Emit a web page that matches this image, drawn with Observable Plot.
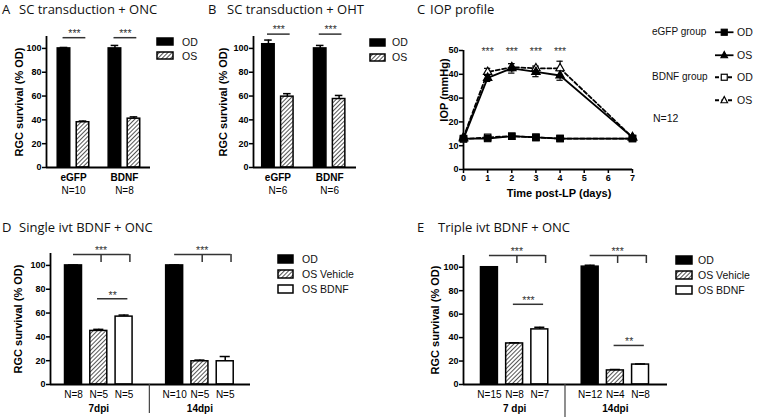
<!DOCTYPE html>
<html><head><meta charset="utf-8">
<script src="https://cdn.jsdelivr.net/npm/d3@7"></script>
<script src="https://cdn.jsdelivr.net/npm/@observablehq/plot@0.6"></script>
<style>
body{margin:0;background:#fff;}
#root{position:relative;width:769px;height:417px;overflow:hidden;font-family:'Liberation Sans',Arial,sans-serif;background:#fff;}
.title{position:absolute;font-family:'Open Sans','Noto Sans',sans-serif;font-size:13px;line-height:14px;color:#111;white-space:nowrap;}
.leg{position:absolute;font-family:'Liberation Sans',Arial,sans-serif;font-size:10.5px;line-height:12px;white-space:nowrap;color:#111;}
.legc{font-size:10px;}
</style></head><body>
<svg width="0" height="0" style="position:absolute"><defs>
<pattern id="hatch" patternUnits="userSpaceOnUse" width="3" height="3" patternTransform="rotate(45)">
<rect width="3" height="3" fill="white"/><line x1="0.5" y1="0" x2="0.5" y2="3" stroke="#555" stroke-width="1"/>
</pattern></defs></svg>
<div id="root"></div>
<script>
// ---------------- DATA ----------------
// Panel A: SC transduction + ONC
const groupsA = ["eGFP", "BDNF"];
const nLabelsA = ["N=10", "N=8"];
const seriesAB = ["OD", "OS"];
const meanA_OD = [100, 100];
const semA_OD = [0.8, 2.5];
const meanA_OS = [38, 41];
const semA_OS = [1, 1.5];
const sigA = ["***", "***"];
// Panel B: SC transduction + OHT
const groupsB = ["eGFP", "BDNF"];
const nLabelsB = ["N=6", "N=6"];
const meanB_OD = [103.5, 100];
const semB_OD = [3.5, 2.5];
const meanB_OS = [59.5, 57.5];
const semB_OS = [2.5, 3];
const sigB = ["***", "***"];
// Panel C: IOP profile
const daysC = [0, 1, 2, 3, 4, 7];
const dayTicksC = [0, 1, 2, 3, 4, 5, 6, 7];
const iopTicksC = [0, 10, 20, 30, 40, 50];
const iop_eGFP_OD = [13, 13, 14, 13.5, 13, 13];
const sem_eGFP_OD = [0.4, 0.4, 0.5, 0.4, 0.4, 0.4];
const iop_eGFP_OS = [13, 38.5, 42.5, 41, 39.5, 13.5];
const sem_eGFP_OS = [0.5, 1.5, 2, 2, 2, 0.5];
const iop_BDNF_OD = [12.8, 13.5, 14, 13.5, 13, 13];
const sem_BDNF_OD = [0.4, 0.4, 0.5, 0.4, 0.4, 0.4];
const iop_BDNF_OS = [13.5, 41, 43, 42.5, 42.5, 13.5];
const sem_BDNF_OS = [0.5, 1.5, 1.5, 1, 3, 0.5];
const sigDaysC = [1, 2, 3, 4];
const sigC = ["***", "***", "***", "***"];
const nLabelC = "N=12";
// Panel D: Single ivt BDNF + ONC
const timesD = ["7dpi", "14dpi"];
const seriesDE = ["OD", "OS Vehicle", "OS BDNF"];
const meanD_OD = [100, 100];
const semD_OD = [0.3, 0.3];
const nD_OD = ["N=8", "N=10"];
const meanD_Veh = [45, 19.5];
const semD_Veh = [1.3, 1];
const nD_Veh = ["N=5", "N=5"];
const meanD_BDNF = [57, 19.5];
const semD_BDNF = [1.3, 4];
const nD_BDNF = ["N=5", "N=5"];
const bracketD = ["***", "***"];
const pairD = ["**", null];
// Panel E: Triple ivt BDNF + ONC
const timesE = ["7 dpi", "14dpi"];
const meanE_OD = [100, 100.5];
const semE_OD = [0.3, 1.2];
const nE_OD = ["N=15", "N=12"];
const meanE_Veh = [35, 12];
const semE_Veh = [0.6, 0.8];
const nE_Veh = ["N=8", "N=4"];
const meanE_BDNF = [47, 17];
const semE_BDNF = [1.8, 0.5];
const nE_BDNF = ["N=7", "N=8"];
const bracketE = ["***", "***"];
const pairE = ["***", "**"];
const survivalTicks = [0, 20, 40, 60, 80, 100];
const yLabelSurv = "RGC survival (% OD)";

// ---------------- LAYOUT HELPERS ----------------
const FONT = "'Liberation Sans', Arial, Helvetica, sans-serif";
const root = document.getElementById("root");
function put(el, left, top) {
  el.style.position = "absolute"; el.style.left = left + "px"; el.style.top = top + "px";
  root.appendChild(el); return el;
}
function title(letter, text, lx, tx, cy) {
  const a = document.createElement("div"); a.className = "title"; a.textContent = letter; put(a, lx, cy - 7);
  const b = document.createElement("div"); b.className = "title"; b.textContent = text; put(b, tx, cy - 7);
}
const svgStyle = {fontFamily: FONT, fontSize: "9px", fontWeight: "bold", color: "black", background: "transparent", overflow: "visible"};

function barPanel(o) {
  const nS = o.series.length;
  const P = (gi, si) => gi * o.groupStep + si;
  const rows = [];
  o.groups.forEach((g, gi) => o.series.forEach((s, si) => rows.push({
    gi, si, pos: P(gi, si), mean: o.means[si][gi], sem: o.sems[si][gi], n: o.barN ? o.barN[si][gi] : null
  })));
  const groupRows = o.groups.map((g, gi) => ({gi, name: g, center: P(gi, (nS - 1) / 2), n: o.groupN ? o.groupN[gi] : null}));
  const x0 = -o.padL, x1 = P(o.groups.length - 1, nS - 1) + o.padR;
  const innerH = o.height - o.marginTop - o.marginBottom;
  const upp = o.yMax / innerH;
  const marks = [];
  o.series.forEach((s, si) => marks.push(Plot.rect(rows.filter(r => r.si === si), {
    x1: r => r.pos - o.halfW, x2: r => r.pos + o.halfW, y1: 0, y2: "mean",
    fill: o.fills[si], stroke: "black", strokeWidth: 1.5
  })));
  marks.push(Plot.ruleX(rows, {x: "pos", y1: "mean", y2: r => r.mean + r.sem, strokeWidth: 1.5}));
  marks.push(Plot.ruleY(rows, {y: r => r.mean + r.sem, x1: r => r.pos - o.capW, x2: r => r.pos + o.capW, strokeWidth: 1.5}));
  marks.push(Plot.ruleY([0], {strokeWidth: 1.8}));
  marks.push(Plot.ruleX([x0], {y1: 0, y2: o.yMax, strokeWidth: 1.8}));
  marks.push(Plot.axisY({ticks: survivalTicks, tickSize: 4, tickPadding: 1, fontSize: 9, strokeWidth: 1.5, label: null}));
  marks.push(Plot.text([yLabelSurv], {text: d => d, frameAnchor: "left", textAnchor: "middle", lineAnchor: "middle", rotate: -90, dx: o.yLabelDx, fontSize: 11}));
  marks.push(Plot.text(groupRows, {x: "center", text: "name", frameAnchor: "bottom", lineAnchor: "middle", dy: o.groupDy, fontSize: 10}));
  if (o.groupN) marks.push(Plot.text(groupRows, {x: "center", text: "n", frameAnchor: "bottom", lineAnchor: "middle", dy: o.nDy, fontSize: 10, fontWeight: "normal"}));
  if (o.barN) marks.push(Plot.text(rows, {x: "pos", text: "n", frameAnchor: "bottom", lineAnchor: "middle", dy: o.nDy, fontSize: 10, fontWeight: "normal"}));
  if (o.separator) marks.push(Plot.ruleX(groupRows.slice(1), {x: d => d.center - o.groupStep / 2, y1: 0, y2: -o.sepPx * upp, stroke: "#444", strokeWidth: 1.2}));
  // pairwise significance lines
  if (o.pairs) {
    const pr = o.pairs.filter(p => p.label);
    marks.push(Plot.ruleY(pr, {y: "level", x1: p => P(p.gi, p.a) - 0.05, x2: p => P(p.gi, p.b) + 0.15, stroke: "#333", strokeWidth: 1.5}));
    marks.push(Plot.text(pr, {x: p => (P(p.gi, p.a) + P(p.gi, p.b) + 0.1) / 2, y: p => p.level + o.sigTextOff, text: "label", fontSize: 10.5, fontWeight: "normal", fill: "#333"}));
  }
  if (o.brackets) {
    const br = o.brackets;
    marks.push(Plot.ruleY(br, {y: "level", x1: b => P(b.gi, 0), x2: b => P(b.gi, 2) + 0.23, stroke: "#333", strokeWidth: 1.5}));
    marks.push(Plot.ruleX(br, {x: b => P(b.gi, 1) + 0.09, y1: b => b.level - o.drop, y2: "level", stroke: "#333", strokeWidth: 1.5}));
    marks.push(Plot.ruleX(br, {x: b => P(b.gi, 2) + 0.23, y1: b => b.level - o.drop, y2: "level", stroke: "#333", strokeWidth: 1.5}));
    marks.push(Plot.text(br, {x: b => P(b.gi, 1) + 0.09, y: b => b.level + o.sigTextOff, text: "label", fontSize: 10.5, fontWeight: "normal", fill: "#333"}));
  }
  const svg = Plot.plot({
    width: o.width, height: o.height,
    marginLeft: o.marginLeft, marginRight: o.marginRight, marginTop: o.marginTop, marginBottom: o.marginBottom,
    x: {domain: [x0, x1], axis: null},
    y: {domain: [0, o.yMax]},
    style: svgStyle,
    marks
  });
  return put(svg, o.left, o.top);
}

function swatchLegend(labels, fills, boxLeft, boxW, boxH, centers, textLeft) {
  labels.forEach((lab, i) => {
    const sw = document.createElement("div");
    sw.innerHTML = `<svg width="${boxW + 2}" height="${boxH + 2}" style="display:block;overflow:visible"><rect x="1" y="1" width="${boxW}" height="${boxH}" fill="${fills[i]}" stroke="black" stroke-width="1.5"/></svg>`;
    put(sw, boxLeft - 1, centers[i] - boxH / 2 - 1);
    const t = document.createElement("div"); t.className = "leg"; t.textContent = lab; put(t, textLeft, centers[i] - 6);
  });
}

// ---------------- PANEL A ----------------
title("A", "SC transduction + ONC", 2, 19, 9);
barPanel({
  groups: groupsA, series: seriesAB, means: [meanA_OD, meanA_OS], sems: [semA_OD, semA_OS],
  fills: ["black", "url(#hatch)"], groupN: nLabelsA,
  groupStep: 2.68, padL: 0.92, padR: 0.87, halfW: 0.33, capW: 0.2,
  width: 160, height: 182, left: 0, top: 20,
  marginLeft: 46, marginRight: 10, marginTop: 16, marginBottom: 35, yMax: 110,
  yLabelDx: -27, groupDy: 10, nDy: 23,
  pairs: sigA.map((l, gi) => ({gi, a: 0, b: 1, label: l, level: 109})), sigTextOff: 3.7
});
swatchLegend(seriesAB, ["black", "url(#hatch)"], 157, 16, 7, [41.5, 55.5], 182);

// ---------------- PANEL B ----------------
title("B", "SC transduction + OHT", 208, 227, 9);
barPanel({
  groups: groupsB, series: seriesAB, means: [meanB_OD, meanB_OS], sems: [semB_OD, semB_OS],
  fills: ["black", "url(#hatch)"], groupN: nLabelsB,
  groupStep: 2.74, padL: 0.79, padR: 0.92, halfW: 0.33, capW: 0.2,
  width: 160, height: 182, left: 207, top: 20,
  marginLeft: 46, marginRight: 11, marginTop: 16, marginBottom: 35, yMax: 110,
  yLabelDx: -30, groupDy: 10, nDy: 23,
  pairs: sigB.map((l, gi) => ({gi, a: 0, b: 1, label: l, level: 112})), sigTextOff: 3.7
});
swatchLegend(seriesAB, ["black", "url(#hatch)"], 370, 15, 7, [42, 57], 392);

// ---------------- PANEL C ----------------
title("C", "IOP profile", 417, 430, 9);
const cRows = (vals, sems) => daysC.map((d, i) => ({day: d, v: vals[i], s: sems[i]}));
const cSeries = [
  {rows: cRows(iop_eGFP_OD, sem_eGFP_OD), dash: null, symbol: "square", fill: "black"},
  {rows: cRows(iop_eGFP_OS, sem_eGFP_OS), dash: null, symbol: "triangle", fill: "black"},
  {rows: cRows(iop_BDNF_OD, sem_BDNF_OD), dash: "4,2.5", symbol: "square", fill: "white"},
  {rows: cRows(iop_BDNF_OS, sem_BDNF_OS), dash: "4,2.5", symbol: "triangle", fill: "white"}
];
const cMarks = [
  Plot.ruleY([0], {strokeWidth: 1.8}),
  Plot.ruleX([0], {y1: 0, y2: 50, strokeWidth: 1.8}),
  Plot.axisY({ticks: iopTicksC, tickSize: 4, tickPadding: 1, fontSize: 9, strokeWidth: 1.5, label: null}),
  Plot.axisX({ticks: dayTicksC, tickFormat: d => String(d), tickSize: 4, tickPadding: 1, fontSize: 9, strokeWidth: 1.5, label: null}),
  Plot.text(["IOP (mmHg)"], {text: d => d, frameAnchor: "left", textAnchor: "middle", lineAnchor: "middle", rotate: -90, dx: -19, dy: -20, fontSize: 11}),
  Plot.text(["Time post-LP (days)"], {text: d => d, frameAnchor: "bottom", lineAnchor: "middle", dy: 24, dx: 11, fontSize: 11}),
  Plot.text(sigDaysC, {x: d => d, y: 49.5, text: (d, i) => sigC[i], fontSize: 10.5, fontWeight: "normal", fill: "#333"})
];
cSeries.forEach(s => cMarks.push(Plot.line(s.rows, {x: "day", y: "v", stroke: "black", strokeWidth: 1.8, strokeDasharray: s.dash || undefined})));
cSeries.forEach(s => {
  cMarks.push(Plot.ruleX(s.rows, {x: "day", y1: d => d.v - d.s, y2: d => d.v + d.s, strokeWidth: 1.2}));
  cMarks.push(Plot.ruleY(s.rows, {y: d => d.v + d.s, x1: d => d.day - 0.13, x2: d => d.day + 0.13, strokeWidth: 1.2}));
  cMarks.push(Plot.ruleY(s.rows, {y: d => d.v - d.s, x1: d => d.day - 0.13, x2: d => d.day + 0.13, strokeWidth: 1.2}));
});
[cSeries[2], cSeries[3], cSeries[0], cSeries[1]].forEach(s => cMarks.push(Plot.dot(s.rows, {
  x: "day", y: "v", symbol: s.symbol, fill: s.fill, stroke: "black", strokeWidth: 1.2, r: s.symbol === "square" ? 3.6 : 3.1
})));
put(Plot.plot({
  width: 220, height: 175, marginLeft: 43, marginRight: 8, marginTop: 20, marginBottom: 36,
  x: {domain: [0, 7], axis: null}, y: {domain: [0, 50]},
  style: svgStyle, marks: cMarks
}), 420, 30);
// C legend
function lineSwatch(dash, symbol, fill) {
  const m = symbol === "square"
    ? `<rect x="6.25" y="3.25" width="6" height="6" fill="${fill}" stroke="black" stroke-width="1.2"/>`
    : `<polygon points="9.25,2.5 12.5,8.75 6,8.75" fill="${fill}" stroke="black" stroke-width="1.2"/>`;
  return `<svg width="19" height="12" style="display:block;overflow:visible"><line x1="0" x2="18.5" y1="6.25" y2="6.25" stroke="black" stroke-width="1.8" ${dash ? `stroke-dasharray="${dash}"` : ""}/>${m}</svg>`;
}
const legC = [
  {group: "eGFP group", label: seriesAB[0], s: cSeries[0], cy: 32},
  {group: null, label: seriesAB[1], s: cSeries[1], cy: 55},
  {group: "BDNF group", label: seriesAB[0], s: cSeries[2], cy: 77},
  {group: null, label: seriesAB[1], s: cSeries[3], cy: 100}
];
legC.forEach(r => {
  if (r.group) { const g = document.createElement("div"); g.className = "leg legc"; g.textContent = r.group; put(g, 652, r.cy - 6); }
  const sw = document.createElement("div"); sw.innerHTML = lineSwatch(r.s.dash, r.s.symbol, r.s.fill); put(sw, 715, r.cy - 6);
  const t = document.createElement("div"); t.className = "leg"; t.textContent = r.label; put(t, 737, r.cy - 6);
});
{ const n = document.createElement("div"); n.className = "leg"; n.textContent = nLabelC; put(n, 653, 118 - 6); }

// ---------------- PANEL D ----------------
title("D", "Single ivt BDNF + ONC", 2, 19, 227);
barPanel({
  groups: timesD, series: seriesDE, means: [meanD_OD, meanD_Veh, meanD_BDNF], sems: [semD_OD, semD_Veh, semD_BDNF],
  fills: ["black", "url(#hatch)", "white"], barN: [nD_OD, nD_Veh, nD_BDNF],
  groupStep: 4, padL: 0.91, padR: 1.0, halfW: 0.336, capW: 0.2,
  width: 260, height: 172, left: 0, top: 245,
  marginLeft: 50, marginRight: 10, marginTop: 8, marginBottom: 33, yMax: 110,
  yLabelDx: -32, groupDy: 24, nDy: 10, separator: true, sepPx: 29,
  pairs: pairD.map((l, gi) => ({gi, a: 1, b: 2, label: l, level: [72, null][gi]})),
  brackets: bracketD.map((l, gi) => ({gi, label: l, level: 109.2})), drop: 6.7, sigTextOff: 3
});
swatchLegend(seriesDE, ["black", "url(#hatch)", "white"], 278, 15, 8, [259, 274, 289], 302);

// ---------------- PANEL E ----------------
title("E", "Triple ivt BDNF + ONC", 417, 438, 227);
barPanel({
  groups: timesE, series: seriesDE, means: [meanE_OD, meanE_Veh, meanE_BDNF], sems: [semE_OD, semE_Veh, semE_BDNF],
  fills: ["black", "url(#hatch)", "white"], barN: [nE_OD, nE_Veh, nE_BDNF],
  groupStep: 4, padL: 1.03, padR: 1.07, halfW: 0.336, capW: 0.2,
  width: 277, height: 172, left: 400, top: 245,
  marginLeft: 63, marginRight: 10, marginTop: 10, marginBottom: 33, yMax: 110,
  yLabelDx: -28, groupDy: 24, nDy: 10, separator: true, sepPx: 34,
  pairs: pairE.map((l, gi) => ({gi, a: 1, b: 2, label: l, level: [68.4, 33.3][gi]})),
  brackets: bracketE.map((l, gi) => ({gi, label: l, level: 110})), drop: 6.8, sigTextOff: 3
});
swatchLegend(seriesDE, ["black", "url(#hatch)", "white"], 676, 16, 8, [260, 275, 290], 698);
</script></body></html>
